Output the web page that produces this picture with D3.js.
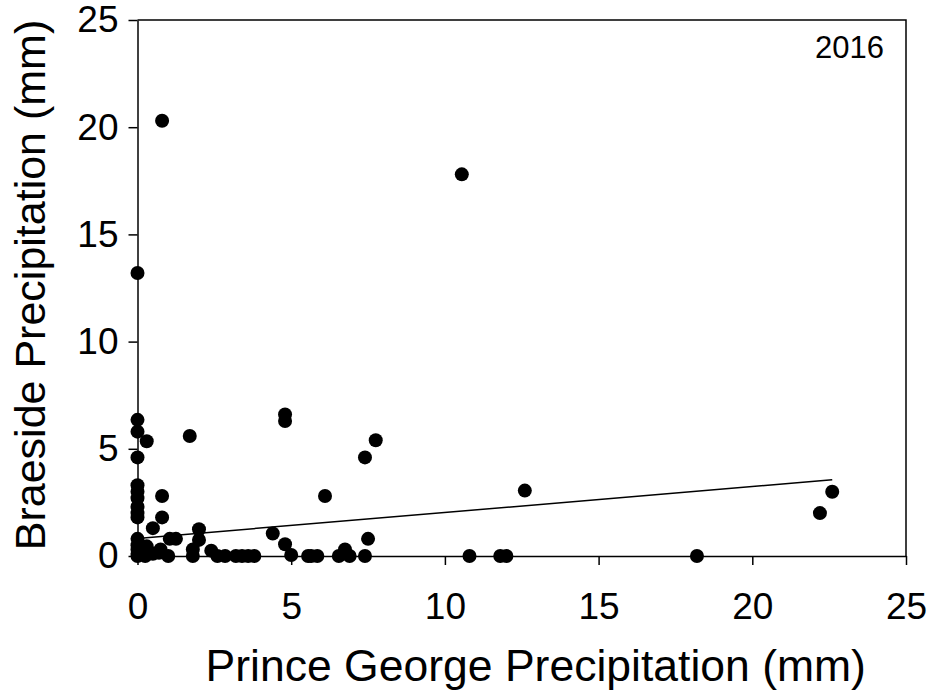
<!DOCTYPE html>
<html>
<head>
<meta charset="utf-8">
<script src="https://cdn.jsdelivr.net/npm/d3@7"></script>
<style>
html,body{margin:0;padding:0;background:#fff;}
svg{display:block;font-family:"Liberation Sans",Arial,sans-serif;}
</style>
</head>
<body>
<svg id="chart" width="927" height="692"></svg>
<script>
// Prince George precipitation (mm) — x values
const princeGeorge = [
  0,0,0,0,0,0,0,0,0,0,0,0,0,0,0,
  0.3,0.3,0.25,0.5,0.5,0.7,0.8,0.8,0.8,0.75,1.0,1.05,1.25,1.7,1.8,1.8,2.0,2.0,2.4,
  2.6,2.85,3.2,3.4,3.6,3.8,4.4,4.8,4.8,4.8,5.0,5.55,5.65,5.85,6.1,6.55,6.75,6.9,
  7.4,7.4,7.5,7.75,10.55,10.8,11.8,12.0,12.6,18.2,22.2,22.6
];
// Braeside precipitation (mm) — y values
const braeside = [
  13.2,6.35,5.8,4.6,3.3,3.0,2.7,2.3,2.0,1.8,0.8,0.5,0.3,0.1,0,
  5.35,0.45,0,0.1,1.3,0.15,20.3,2.8,1.8,0.3,0,0.8,0.8,5.6,0.3,0,1.25,0.75,0.25,
  0,0,0,0,0,0,1.05,6.6,6.3,0.55,0.05,0,0,0,2.8,0,0.3,0,
  4.6,0,0.8,5.4,17.8,0,0,0,3.05,0,2.0,3.0
];
// Linear fit shown on the chart
const fitX = [0, 22.6];
const fitIntercept = 0.82;
const fitSlope = 0.121;

const xTicks = [0, 5, 10, 15, 20, 25];
const yTicks = [0, 5, 10, 15, 20, 25];
const xLabel = "Prince George Precipitation (mm)";
const yLabel = "Braeside Precipitation (mm)";
const yearLabel = "2016";

const svg = d3.select("#chart");
const mLeft = 137.5, mRight = 906, mTop = 20, mBottom = 556;

const x = d3.scaleLinear().domain([0, 25]).range([mLeft, mRight]);
const y = d3.scaleLinear().domain([0, 25]).range([mBottom, mTop]);

// frame (top and right)
svg.append("path")
  .attr("d", `M${mLeft},${mTop}H${mRight}V${mBottom}`)
  .attr("fill", "none").attr("stroke", "#000").attr("stroke-width", 1.5);

const xAxis = svg.append("g").attr("transform", `translate(0,${mBottom})`)
  .call(d3.axisBottom(x).tickValues(xTicks).tickSize(9).tickPadding(28).tickSizeOuter(0).tickFormat(d3.format("d")));
const yAxis = svg.append("g").attr("transform", `translate(${mLeft},0)`)
  .call(d3.axisLeft(y).tickValues(yTicks).tickSize(9).tickPadding(10).tickSizeOuter(0).tickFormat(d3.format("d")));

[xAxis, yAxis].forEach(g => {
  g.select(".domain").attr("stroke", "#000").attr("stroke-width", 1.5);
  g.selectAll(".tick line").attr("stroke", "#000").attr("stroke-width", 1.5);
  g.selectAll(".tick text").attr("fill", "#000")
    .style("font-size", "37px").style("font-family", '"Liberation Sans",Arial,sans-serif');
});

// regression line
svg.append("line")
  .attr("x1", x(fitX[0])).attr("y1", y(fitIntercept + fitSlope * fitX[0]))
  .attr("x2", x(fitX[1])).attr("y2", y(fitIntercept + fitSlope * fitX[1]))
  .attr("stroke", "#000").attr("stroke-width", 1.5);

// points
svg.append("g").selectAll("circle")
  .data(princeGeorge.map((v, i) => [v, braeside[i]]))
  .join("circle")
  .attr("cx", d => x(d[0]))
  .attr("cy", d => y(d[1]))
  .attr("r", 7)
  .attr("fill", "#000");

// year label
svg.append("text")
  .attr("x", mRight - 22).attr("y", 58)
  .attr("text-anchor", "end")
  .style("font-size", "31px")
  .text(yearLabel);

// axis titles
svg.append("text")
  .attr("x", (mLeft + mRight) / 2 + 14).attr("y", 681)
  .attr("text-anchor", "middle")
  .style("font-size", "44.5px")
  .text(xLabel);

svg.append("text")
  .attr("transform", `translate(45,285) rotate(-90)`)
  .attr("text-anchor", "middle")
  .style("font-size", "43px")
  .text(yLabel);
</script>
</body>
</html>
